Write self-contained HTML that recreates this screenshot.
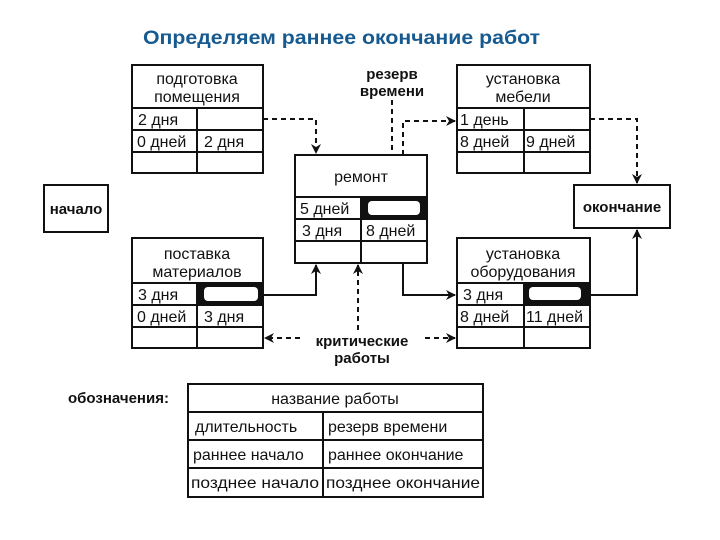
<!DOCTYPE html>
<html><head><meta charset="utf-8"><style>
html,body{margin:0;padding:0;background:#fff;}
svg{display:block;}
text{font-family:"Liberation Sans",sans-serif;fill:#111;}
</style></head><body>
<svg width="720" height="540" viewBox="0 0 720 540" xmlns="http://www.w3.org/2000/svg">
<defs>
<marker id="ah" markerWidth="10" markerHeight="10" refX="9" refY="5" orient="auto" markerUnits="userSpaceOnUse">
<path d="M0,0 L10,5 L0,10 L3,5 z" fill="#111"/>
</marker>
</defs>
<text x="143" y="44" font-size="19" font-weight="bold" textLength="397" lengthAdjust="spacingAndGlyphs" style="fill:#175a90">Определяем раннее окончание работ</text>

<g stroke="#111" stroke-width="2" fill="#fff">
<rect x="132" y="65" width="131" height="108"/>
<line x1="132" y1="108" x2="263" y2="108"/><line x1="132" y1="130" x2="263" y2="130"/><line x1="132" y1="152" x2="263" y2="152"/>
<line x1="197" y1="108" x2="197" y2="173"/>
<rect x="295" y="155" width="132" height="108"/>
<line x1="295" y1="197" x2="427" y2="197"/><line x1="295" y1="219" x2="427" y2="219"/><line x1="295" y1="241" x2="427" y2="241"/>
<line x1="361" y1="197" x2="361" y2="263"/>
<rect x="132" y="238" width="131" height="110"/>
<line x1="132" y1="283" x2="263" y2="283"/><line x1="132" y1="305" x2="263" y2="305"/><line x1="132" y1="327" x2="263" y2="327"/>
<line x1="197" y1="283" x2="197" y2="348"/>
<rect x="457" y="65" width="133" height="108"/>
<line x1="457" y1="108" x2="590" y2="108"/><line x1="457" y1="130" x2="590" y2="130"/><line x1="457" y1="152" x2="590" y2="152"/>
<line x1="524" y1="108" x2="524" y2="173"/>
<rect x="457" y="238" width="133" height="110"/>
<line x1="457" y1="283" x2="590" y2="283"/><line x1="457" y1="305" x2="590" y2="305"/><line x1="457" y1="327" x2="590" y2="327"/>
<line x1="524" y1="283" x2="524" y2="348"/>
<rect x="44" y="185" width="64" height="47"/>
<rect x="574" y="185" width="96" height="43"/>
<rect x="188" y="384" width="295" height="113"/>
<line x1="188" y1="412" x2="483" y2="412"/><line x1="188" y1="440" x2="483" y2="440"/><line x1="188" y1="468" x2="483" y2="468"/>
<line x1="323" y1="412" x2="323" y2="497"/>
</g>

<g fill="#111">
<rect x="361" y="197" width="66" height="22"/>
<rect x="197" y="283" width="66" height="22"/>
<rect x="524" y="283" width="66" height="22"/>
</g>
<g fill="#fff">
<rect x="368" y="201" width="52" height="14" rx="4"/>
<rect x="204" y="287" width="54" height="14" rx="4"/>
<rect x="529" y="287" width="52" height="13" rx="4"/>
</g>

<g stroke="#111" stroke-width="2" fill="none">
<path d="M263,119 H316 V153" stroke-dasharray="5,4" marker-end="url(#ah)"/>
<path d="M392,100 V150" stroke-dasharray="5,4"/>
<path d="M403,155 V121 H455" stroke-dasharray="5,4" marker-end="url(#ah)"/>
<path d="M590,119 H637 V183" stroke-dasharray="5,4" marker-end="url(#ah)"/>
<path d="M263,295 H316 V265" marker-end="url(#ah)"/>
<path d="M403,263 V295 H455" marker-end="url(#ah)"/>
<path d="M590,295 H637 V230" marker-end="url(#ah)"/>
<path d="M358,330 V265" stroke-dasharray="5,4" marker-end="url(#ah)"/>
<path d="M300,338 H265" stroke-dasharray="5,4" marker-end="url(#ah)"/>
<path d="M425,338 H455" stroke-dasharray="5,4" marker-end="url(#ah)"/>
</g>

<g font-size="16">
<text x="197" y="84" text-anchor="middle">подготовка</text>
<text x="197" y="102" text-anchor="middle">помещения</text>
<text x="138" y="125">2 дня</text>
<text x="137" y="147">0 дней</text><text x="204" y="147">2 дня</text>

<text x="361" y="182" text-anchor="middle">ремонт</text>
<text x="300" y="214">5 дней</text>
<text x="302" y="236">3 дня</text><text x="366" y="236">8 дней</text>

<text x="197" y="259" text-anchor="middle">поставка</text>
<text x="197" y="277" text-anchor="middle">материалов</text>
<text x="138" y="300">3 дня</text>
<text x="137" y="322">0 дней</text><text x="204" y="322">3 дня</text>

<text x="523" y="84" text-anchor="middle">установка</text>
<text x="523" y="102" text-anchor="middle">мебели</text>
<text x="460" y="125">1 день</text>
<text x="460" y="147">8 дней</text><text x="526" y="147">9 дней</text>

<text x="523" y="259" text-anchor="middle">установка</text>
<text x="523" y="277" text-anchor="middle">оборудования</text>
<text x="463" y="300">3 дня</text>
<text x="460" y="322">8 дней</text><text x="526" y="322">11 дней</text>

<text x="76" y="214" text-anchor="middle" font-weight="bold" font-size="15">начало</text>
<text x="622" y="212" text-anchor="middle" font-weight="bold" font-size="15">окончание</text>

<text x="392" y="79" text-anchor="middle" font-weight="bold" font-size="15">резерв</text>
<text x="392" y="96" text-anchor="middle" font-weight="bold" font-size="15">времени</text>
<text x="362" y="346" text-anchor="middle" font-weight="bold" font-size="15">критические</text>
<text x="362" y="363" text-anchor="middle" font-weight="bold" font-size="15">работы</text>

<text x="68" y="403" font-weight="bold" font-size="15">обозначения:</text>
<text x="335" y="404" text-anchor="middle">название работы</text>
<text x="195" y="432">длительность</text><text x="328" y="432">резерв времени</text>
<text x="193" y="460">раннее начало</text><text x="328" y="460">раннее окончание</text>
<text x="191" y="488" textLength="128" lengthAdjust="spacingAndGlyphs">позднее начало</text><text x="326" y="488" textLength="154" lengthAdjust="spacingAndGlyphs">позднее окончание</text>
</g>
</svg>
</body></html>
